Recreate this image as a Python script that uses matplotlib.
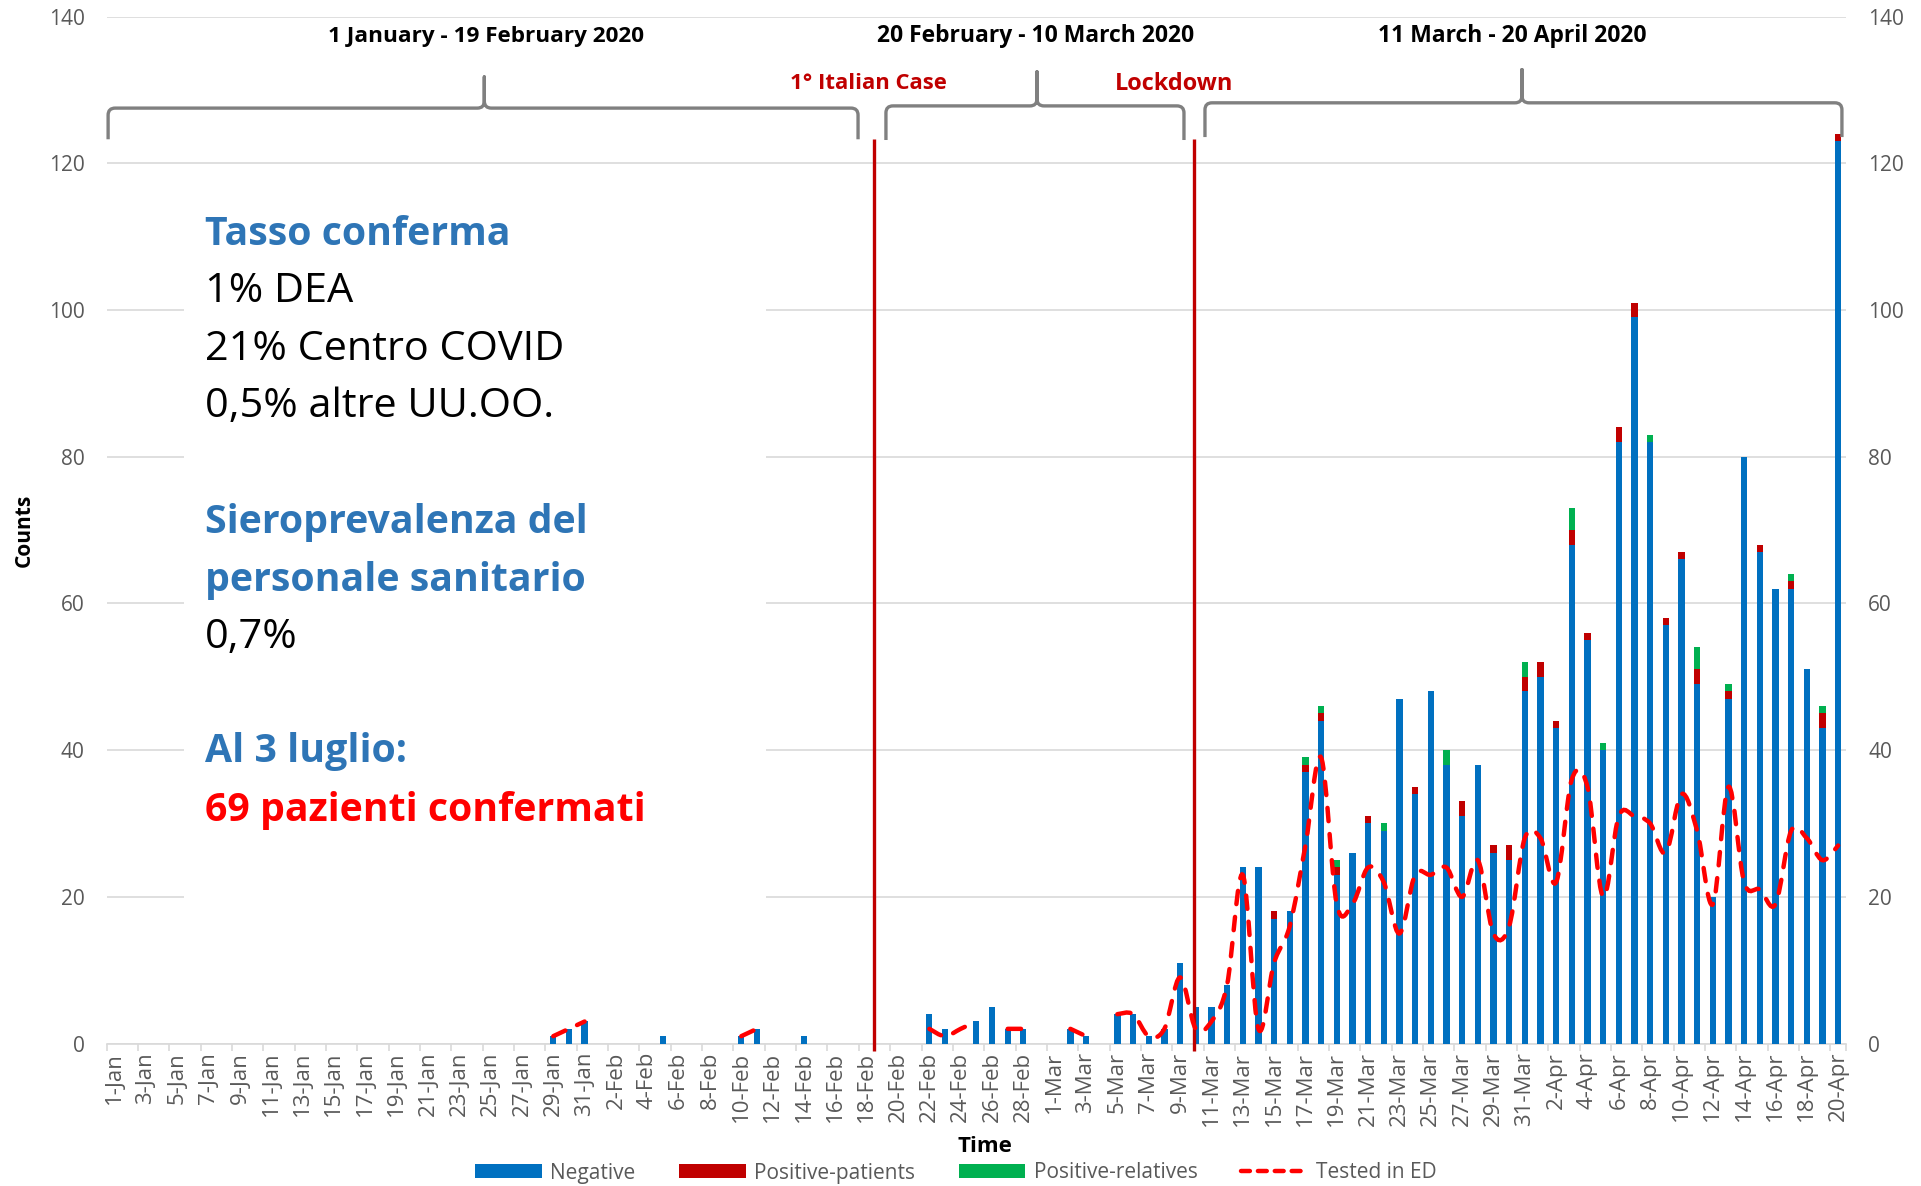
import numpy as np
import pandas as pd
import matplotlib
matplotlib.use("Agg")
import matplotlib.pyplot as plt
from matplotlib.path import Path
from matplotlib.patches import PathPatch, Rectangle, Patch
from matplotlib.lines import Line2D

plt.rcParams['font.family'] = ['Open Sans', 'DejaVu Sans']

nan = np.nan

# ---------------- data ----------------
dates = pd.date_range('2020-01-01', '2020-04-20')
date_labels = [f"{d.day}-{d.strftime('%b')}" for d in dates]

negative = (
    # January
    [0, 0, 0, 0, 0, 0, 0, 0, 0, 0, 0, 0, 0, 0, 0, 0, 0, 0, 0, 0,
     0, 0, 0, 0, 0, 0, 0, 0, 1, 2, 3]
    # February
    + [0, 0, 0, 0, 1, 0, 0, 0, 0, 1, 2, 0, 0, 1, 0, 0, 0, 0, 0, 0,
       0, 4, 2, 0, 3, 5, 2, 2, 0]
    # March
    + [0, 2, 1, 0, 4, 4, 1, 2, 11, 5, 5, 8, 24, 24, 17, 18, 37, 44, 23, 26,
       30, 29, 47, 34, 48, 38, 31, 38, 26, 25, 48]
    # April
    + [50, 43, 68, 55, 40, 82, 99, 82, 57, 66, 49, 20, 47, 80, 67, 62, 62, 51, 43, 123]
)

pos_patients = (
    [0, 0, 0, 0, 0, 0, 0, 0, 0, 0, 0, 0, 0, 0, 0, 0, 0, 0, 0, 0,
     0, 0, 0, 0, 0, 0, 0, 0, 0, 0, 0]
    + [0, 0, 0, 0, 0, 0, 0, 0, 0, 0, 0, 0, 0, 0, 0, 0, 0, 0, 0, 0,
       0, 0, 0, 0, 0, 0, 0, 0, 0]
    + [0, 0, 0, 0, 0, 0, 0, 0, 0, 0, 0, 0, 0, 0, 1, 0, 1, 1, 1, 0,
       1, 0, 0, 1, 0, 0, 2, 0, 1, 2, 2]
    + [2, 1, 2, 1, 0, 2, 2, 0, 1, 1, 2, 0, 1, 0, 1, 0, 1, 0, 2, 1]
)

pos_relatives = (
    [0, 0, 0, 0, 0, 0, 0, 0, 0, 0, 0, 0, 0, 0, 0, 0, 0, 0, 0, 0,
     0, 0, 0, 0, 0, 0, 0, 0, 0, 0, 0]
    + [0, 0, 0, 0, 0, 0, 0, 0, 0, 0, 0, 0, 0, 0, 0, 0, 0, 0, 0, 0,
       0, 0, 0, 0, 0, 0, 0, 0, 0]
    + [0, 0, 0, 0, 0, 0, 0, 0, 0, 0, 0, 0, 0, 0, 0, 0, 1, 1, 1, 0,
       0, 1, 0, 0, 0, 2, 0, 0, 0, 0, 2]
    + [0, 0, 3, 0, 1, 0, 0, 1, 0, 0, 3, 0, 1, 0, 0, 0, 1, 0, 1, 0]
)

tested_ed = (
    [nan, nan, nan, nan, nan, nan, nan, nan, nan, nan, nan, nan, nan, nan,
     nan, nan, nan, nan, nan, nan, nan, nan, nan, nan, nan, nan, nan, nan, 1, 2, 3]
    + [nan, nan, nan, nan, nan, nan, nan, nan, nan, 1, 2, nan, nan, nan, nan,
       nan, nan, nan, nan, nan, nan, 2, 1, 2, 3, nan, 2, 2, nan]
    + [nan, 2, 1, nan, 4, 4, 1, 2, 9, 2, 3, 8, 23, 2, 11, 16, 27, 39, 19, 19,
       24, 22, 15, 23, 23, 24, 20, 25, 15, 16, 28]
    + [28, 22, 36, 35, 20, 31, 31, 30, 26, 34, 29, 19, 35, 22, 21, 19, 29, 28, 25, 27]
)

legend_labels = ["Negative", "Positive-patients", "Positive-relatives", "Tested in ED"]
period_labels = ["1 January - 19 February 2020", "20 February - 10 March 2020",
                 "11 March - 20 April 2020"]
event_labels = ["1° Italian Case", "Lockdown"]
event_positions = [48.5, 68.9]

# ---------------- colours ----------------
C_NEG = '#0070C0'
C_PP = '#C00000'
C_PR = '#00B050'
C_LINE = '#FF0000'
C_EVENT = '#C00000'
C_GRID = '#D9D9D9'
C_TXT = '#595959'
C_BRACE = '#808080'
C_BLUE_TXT = '#2E75B6'

W, H = 1921, 1186
fig = plt.figure(figsize=(W / 100, H / 100), dpi=100)
L, R, T, B = 106.7, 1846.0, 16.8, 1043.5
ax = fig.add_axes([L / W, 1 - B / H, (R - L) / W, (B - T) / H])

x = np.arange(len(date_labels))
neg = np.array(negative, float)
pp = np.array(pos_patients, float)
pr = np.array(pos_relatives, float)
ted = np.array(tested_ed, float)

ax.set_xlim(-0.5, len(x) - 0.5)
ax.set_ylim(0, 140)

bw = 0.4
ax.bar(x, neg, width=bw, color=C_NEG, zorder=2, linewidth=0)
ax.bar(x, pp, width=bw, bottom=neg, color=C_PP, zorder=2, linewidth=0)
ax.bar(x, pr, width=bw, bottom=neg + pp, color=C_PR, zorder=2, linewidth=0)

# event lines
for xe in event_positions:
    ax.plot([xe, xe], [-1.0, 123.4], color=C_EVENT, lw=2.4, zorder=3,
            clip_on=False, solid_capstyle='butt')

# smoothed dashed line (Excel-like smoothing via Bezier segments)
DASH = (0, (3.0, 2.9))
LW_LINE = 3.2
valid = ~np.isnan(ted)
runs = []
cur = []
for i in range(len(x)):
    if valid[i]:
        cur.append(i)
    else:
        if cur:
            runs.append(cur)
        cur = []
if cur:
    runs.append(cur)

for run in runs:
    xs = x[run].astype(float)
    ys = ted[run]
    n = len(xs)
    if n == 1:
        continue
    verts = [(xs[0], ys[0])]
    codes = [Path.MOVETO]
    for i in range(n - 1):
        i0 = i - 1 if i > 0 else i
        i3 = i + 2 if i + 2 < n else i + 1
        c1 = (xs[i] + (xs[i + 1] - xs[i0]) / 6.0, ys[i] + (ys[i + 1] - ys[i0]) / 6.0)
        c2 = (xs[i + 1] - (xs[i3] - xs[i]) / 6.0, ys[i + 1] - (ys[i3] - ys[i]) / 6.0)
        verts += [c1, c2, (xs[i + 1], ys[i + 1])]
        codes += [Path.CURVE4] * 3
    ax.add_patch(PathPatch(Path(verts, codes), fill=False, edgecolor=C_LINE,
                           lw=LW_LINE, linestyle=DASH, capstyle='round', zorder=4))

# axes styling
ax.set_yticks(np.arange(0, 141, 20))
ax.grid(axis='y', color=C_GRID, lw=1.2)
ax.set_axisbelow(True)
for s in ['top', 'left', 'right']:
    ax.spines[s].set_visible(False)
ax.spines['bottom'].set_color(C_GRID)
ax.spines['bottom'].set_linewidth(1.2)
ax.spines['bottom'].set_zorder(1)
ax.tick_params(axis='y', length=0, labelsize=15, labelcolor=C_TXT, pad=16,
               labelright=True)

ax.set_xticks(x[::2])
ax.set_xticklabels(date_labels[::2], rotation=90, fontsize=16, color=C_TXT)
ax.set_xticks(np.append(x[::2] - 0.5, len(x) - 0.5), minor=True)
ax.tick_params(axis='x', which='major', length=0, pad=6)
ax.tick_params(axis='x', which='minor', length=5, color=C_GRID, width=1.2)

fig.text(24 / W, 1 - 530 / H, "Counts", rotation=90, fontsize=15, fontweight='bold',
         ha='center', va='center')
fig.text(985 / W, 1 - 1146 / H, "Time", fontsize=16, fontweight='bold',
         ha='center', va='center')

renderer = fig.canvas.get_renderer()


def fit(t, target):
    w = t.get_window_extent(renderer).width
    t.set_fontsize(t.get_fontsize() * target / w)


# braces (annotations, in data coordinates)
def brace(x0, x1, xm, yb, yh, yp):
    rx, ry = 0.45, 0.95
    verts = [(x0, yb), (x0, yh - ry), (x0, yh), (x0 + rx, yh),
             (xm - rx, yh), (xm, yh), (xm, yh + ry), (xm, yp),
             (xm, yh + ry), (xm, yh), (xm + rx, yh),
             (x1 - rx, yh), (x1, yh), (x1, yh - ry), (x1, yb)]
    codes = [Path.MOVETO, Path.LINETO, Path.CURVE3, Path.CURVE3,
             Path.LINETO, Path.CURVE3, Path.CURVE3, Path.LINETO,
             Path.LINETO, Path.CURVE3, Path.CURVE3,
             Path.LINETO, Path.CURVE3, Path.CURVE3, Path.LINETO]
    ax.add_patch(PathPatch(Path(verts, codes), fill=False, edgecolor=C_BRACE,
                           lw=2.4, zorder=3, clip_on=False, capstyle='butt',
                           joinstyle='round'))


brace(-0.41, 47.45, 23.6, 123.3, 127.55, 131.8)
brace(49.23, 68.25, 58.87, 123.2, 127.85, 132.5)
brace(69.59, 110.24, 89.82, 123.6, 128.27, 132.8)

period_x = [23.7, 58.8, 89.2]
period_w = [317, 319, 270]
for lab, px_, tw in zip(period_labels, period_x, period_w):
    t = ax.text(px_, 137.35, lab, ha='center', va='center', fontsize=14,
                fontweight='bold', color='black', zorder=5)
    fit(t, tw)

event_tx = [48.1, 67.6]
event_w = [158, 119]
for lab, px_, tw in zip(event_labels, event_tx, event_w):
    t = ax.text(px_, 130.9, lab, ha='center', va='center', fontsize=14,
                fontweight='bold', color=C_EVENT, zorder=5)
    fit(t, tw)

# white text box on the left
ax.add_patch(Rectangle((184 / W, 1 - 906 / H), (766 - 184) / W, (906 - 178) / H,
                       transform=fig.transFigure, facecolor='white', edgecolor='none',
                       zorder=1.5))

text_lines = [
    ("Tasso conferma", 234.5, C_BLUE_TXT, 'bold'),
    ("1% DEA", 292.0, 'black', 'normal'),
    ("21% Centro COVID", 349.5, 'black', 'normal'),
    ("0,5% altre UU.OO.", 407.0, 'black', 'normal'),
    ("Sieroprevalenza del", 522.5, C_BLUE_TXT, 'bold'),
    ("personale sanitario", 580.0, C_BLUE_TXT, 'bold'),
    ("0,7%", 637.5, 'black', 'normal'),
    ("Al 3 luglio:", 751.5, C_BLUE_TXT, 'bold'),
    ("69 pazienti confermati", 810.0, C_LINE, 'bold'),
]
sizes = {}
tmp_b = fig.text(0, 0, "Tasso conferma", fontsize=28, fontweight='bold')
fit(tmp_b, 305)
sizes['bold'] = tmp_b.get_fontsize()
tmp_b.remove()
tmp_n = fig.text(0, 0, "21% Centro COVID", fontsize=28)
fit(tmp_n, 359)
sizes['normal'] = tmp_n.get_fontsize()
tmp_n.remove()
for s, yy, col, wt in text_lines:
    fig.text(205 / W, 1 - yy / H, s, color=col, fontweight=wt, fontsize=sizes[wt],
             ha='left', va='center', zorder=3)

# legend
handles = [Patch(facecolor=C_NEG), Patch(facecolor=C_PP), Patch(facecolor=C_PR),
           Line2D([0], [0], color=C_LINE, lw=LW_LINE, linestyle=(0, (2.0, 1.8)),
                  dash_capstyle='round')]
fig.legend(handles, legend_labels, loc='center', bbox_to_anchor=(956 / W, 1 - 1173 / H),
           ncol=4, frameon=False, fontsize=15, labelcolor=C_TXT,
           handlelength=3.2, handleheight=0.65, handletextpad=0.4, columnspacing=2.1,
           borderaxespad=0, borderpad=0)

fig.savefig('out.png', dpi=100)
